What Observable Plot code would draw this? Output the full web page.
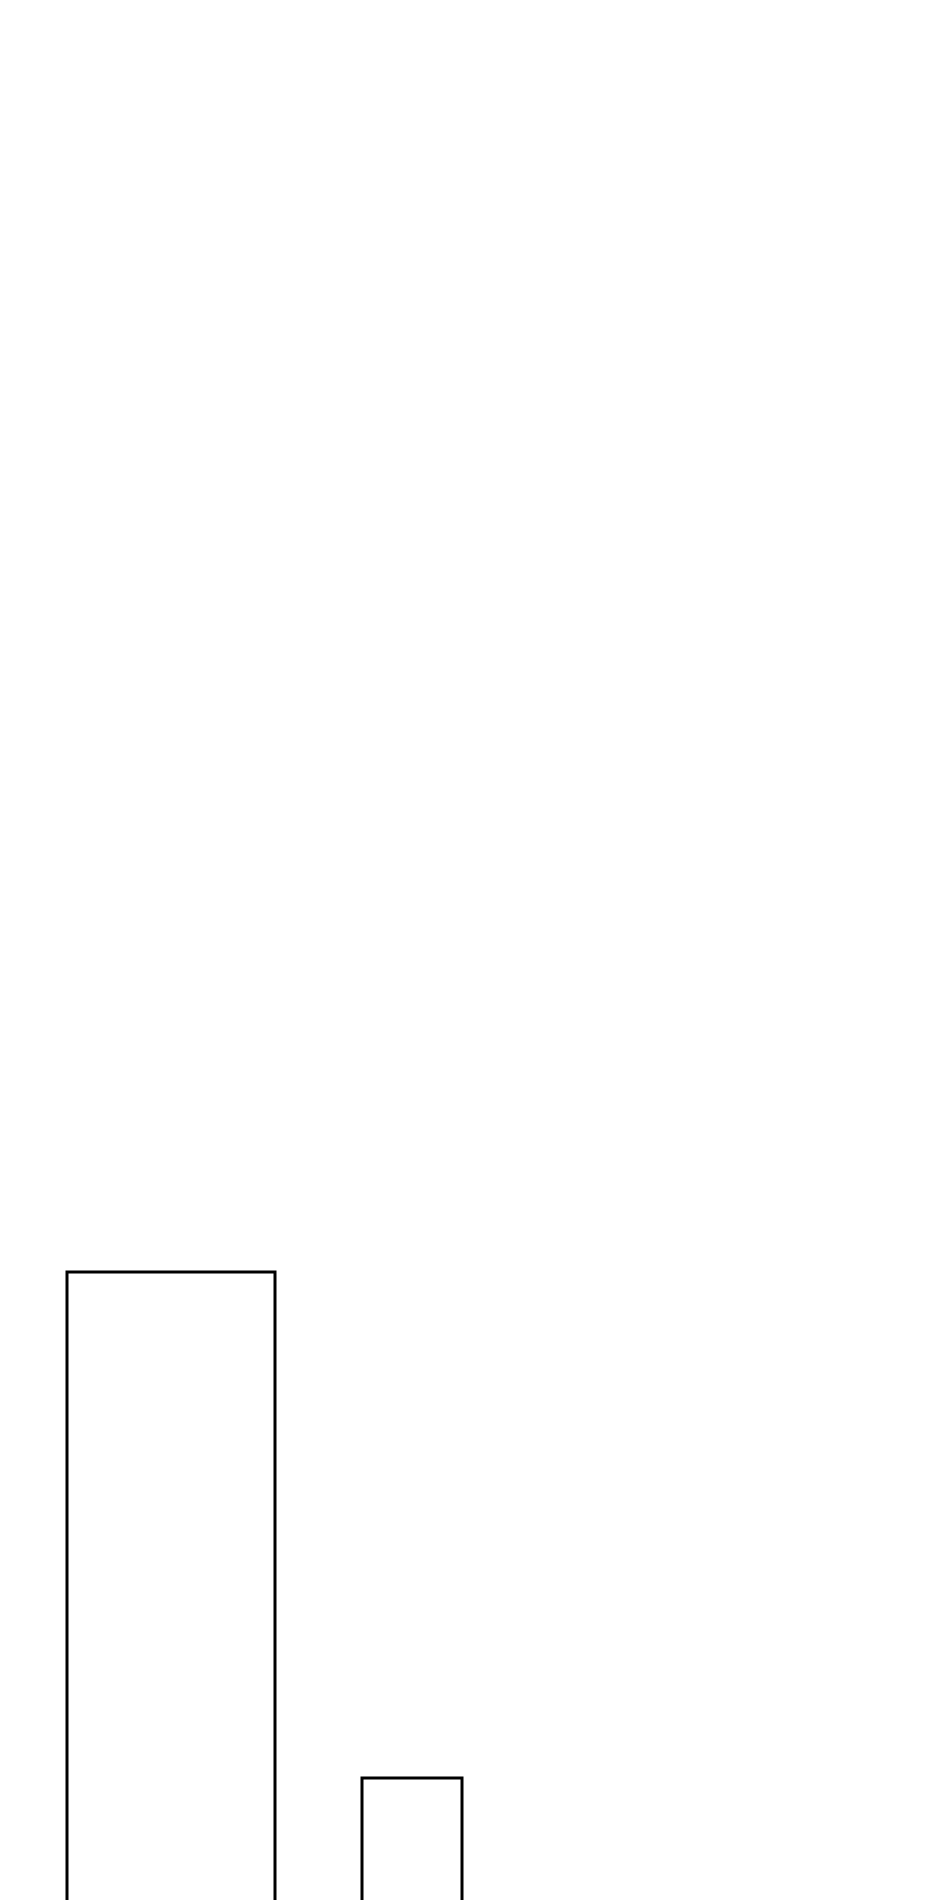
<!DOCTYPE html>
<html>
<head>
<meta charset="utf-8">
<script src="https://cdn.jsdelivr.net/npm/d3@7"></script>
<script src="https://cdn.jsdelivr.net/npm/@observablehq/plot@0.6"></script>
<style>
  html, body { margin: 0; padding: 0; background: #ffffff; }
  #chart svg { display: block; }
</style>
</head>
<body>
<div id="chart"></div>
<script>
const categories = ["A", "B"];
const starts = [0, 2.95];
const ends = [2.08, 3.95];
const values = [100, 50];

const data = categories.map((c, i) => ({ category: c, x1: starts[i], x2: ends[i], value: values[i] }));

const chart = Plot.plot({
  width: 940,
  height: 2314,
  marginLeft: 67,
  marginRight: 0,
  marginTop: 7,
  marginBottom: 30,
  style: { background: "#ffffff" },
  x: { domain: [0, 8.73], axis: null },
  y: { domain: [0, 225], axis: null },
  marks: [
    Plot.rect(data, { x1: "x1", x2: "x2", y1: 0, y2: "value", fill: "#ffffff", stroke: "#000000", strokeWidth: 3 })
  ]
});
document.getElementById("chart").appendChild(chart);
</script>
</body>
</html>
